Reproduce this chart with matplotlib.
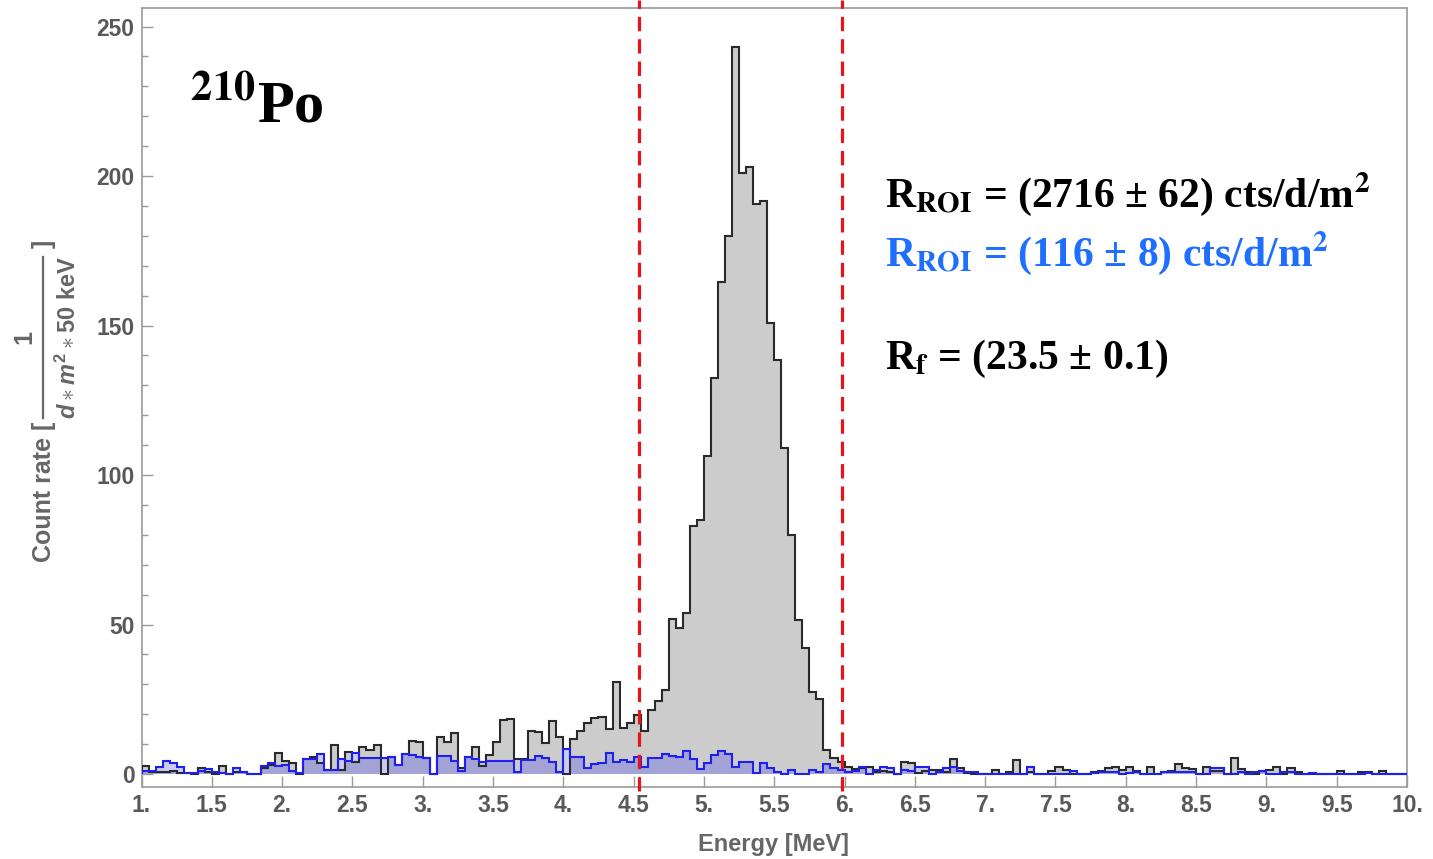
import matplotlib

matplotlib.use('Agg')

import matplotlib.pyplot as plt
from matplotlib.lines import Line2D
from matplotlib.ticker import FixedLocator, MultipleLocator
import numpy as np

# 50 keV bins from 1 to 10 MeV, one row per MeV
total_rate = [
    2.7, 0.8, 0.5, 0.8, 1.1, 0.3, 0.4, 0.0, 1.9, 0.5, 0.0, 2.7, 0.0, 0.5, 0.8, 0.0, 0.0, 2.0, 3.0, 6.9,
    4.5, 3.6, 0.0, 4.9, 5.6, 3.6, 1.3, 9.7, 1.3, 7.4, 4.1, 8.9, 8.0, 9.7, 0.0, 5.8, 3.0, 6.7, 11.0, 10.7,
    5.2, 0.0, 12.5, 10.8, 13.6, 2.0, 5.6, 9.1, 2.7, 6.4, 10.8, 18.0, 18.3, 5.0, 5.0, 14.5, 14.0, 10.5, 17.8, 12.5,
    0.0, 11.6, 14.4, 17.2, 18.6, 19.2, 15.0, 30.7, 15.3, 17.2, 19.6, 14.3, 21.3, 24.5, 28.0, 52.0, 48.7, 53.7, 83.0, 85.0,
    106.5, 132.5, 164.4, 180.0, 243.0, 201.0, 203.0, 190.7, 191.7, 151.0, 138.5, 109.0, 80.0, 51.6, 42.0, 27.3, 25.2, 8.1, 5.3, 4.0,
    2.4, 1.7, 1.9, 2.4, 0.8, 1.0, 0.8, 0.0, 4.1, 3.6, 0.3, 1.0, 1.3, 1.3, 0.8, 5.0, 2.1, 0.3, 0.0, 0.0,
    0.0, 1.3, 0.0, 0.5, 4.7, 0.0, 0.5, 0.0, 0.0, 1.0, 2.2, 1.3, 0.0, 0.0, 0.0, 0.5, 1.0, 1.9, 2.4, 1.3,
    2.3, 1.0, 0.0, 2.3, 0.0, 0.8, 1.0, 3.2, 1.9, 1.7, 0.0, 2.2, 1.0, 1.0, 0.0, 5.4, 1.7, 0.5, 0.0, 1.0,
    1.3, 2.2, 0.0, 1.9, 0.8, 0.0, 0.0, 0.0, 0.0, 0.0, 1.1, 0.0, 0.0, 0.6, 0.6, 0.0, 1.1, 0.0, 0.0, 0.0,
]
bkg_rate = [
    1.0, 1.1, 2.4, 4.4, 3.8, 2.4, 0.4, 0.4, 1.1, 1.6, 0.8, 0.3, 0.0, 1.9, 0.8, 0.0, 0.0, 2.7, 3.8, 2.7,
    3.0, 1.1, 0.2, 4.9, 5.0, 6.7, 1.3, 1.3, 4.9, 4.4, 7.0, 5.5, 5.5, 5.5, 5.2, 5.8, 3.0, 6.7, 6.3, 5.8,
    5.2, 0.0, 6.0, 6.0, 4.5, 1.0, 5.6, 5.0, 4.1, 4.5, 4.5, 4.5, 4.5, 0.5, 4.7, 4.7, 6.0, 5.2, 4.0, 0.8,
    8.4, 5.6, 5.6, 1.9, 3.3, 3.8, 6.9, 4.1, 4.7, 4.1, 5.6, 2.5, 5.2, 5.2, 6.6, 6.1, 5.8, 7.8, 4.9, 1.6,
    3.6, 6.4, 7.8, 6.7, 2.2, 4.1, 4.1, 0.2, 3.7, 2.0, 0.8, 0.0, 1.3, 0.0, 0.0, 1.3, 0.5, 3.4, 2.0, 1.3,
    0.5, 1.0, 2.2, 0.0, 1.3, 2.4, 2.1, 0.0, 1.5, 1.0, 2.4, 2.4, 0.0, 0.8, 1.9, 2.4, 1.0, 0.8, 0.6, 0.0,
    0.0, 0.0, 0.0, 0.0, 0.0, 0.0, 2.2, 0.0, 0.0, 0.0, 0.0, 0.0, 1.0, 0.0, 0.0, 0.3, 0.5, 0.5, 0.5, 0.0,
    0.3, 0.5, 0.0, 0.0, 0.0, 0.5, 0.5, 0.5, 0.5, 0.5, 0.0, 0.0, 1.9, 1.9, 0.0, 0.0, 0.8, 0.0, 0.5, 1.0,
    0.0, 0.0, 0.5, 0.5, 0.0, 0.0, 0.2, 0.0, 0.0, 0.0, 0.0, 0.0, 0.0, 0.0, 0.2, 0.0, 0.0, 0.0, 0.0, 0.0,
]
e_min, e_max, bin_width = 1.0, 10.0, 0.05
roi = [4.535, 5.985]
x_ticks = [1.0, 1.5, 2.0, 2.5, 3.0, 3.5, 4.0, 4.5, 5.0, 5.5, 6.0, 6.5, 7.0, 7.5, 8.0, 8.5, 9.0, 9.5, 10.0]
x_tick_labels = ['1.', '1.5', '2.', '2.5', '3.', '3.5', '4.', '4.5', '5.', '5.5',
                 '6.', '6.5', '7.', '7.5', '8.', '8.5', '9.', '9.5', '10.']
y_ticks = [0, 50, 100, 150, 200, 250]

total_rate = np.array(total_rate)
bkg_rate = np.array(bkg_rate)
edges = e_min + bin_width * np.arange(len(total_rate) + 1)

# sans math for the axis label fraction
plt.rcParams['mathtext.rm'] = 'Liberation Sans:bold'
plt.rcParams['mathtext.it'] = 'Liberation Sans:italic:bold'
plt.rcParams['mathtext.bf'] = 'Liberation Sans:bold'

W, H = 1433, 859


def fx(px):
    return px / W


def fy(py):
    return 1 - py / H


fig = plt.figure(figsize=(W / 100, H / 100), dpi=100)
ax = fig.add_axes([fx(141.5), fy(787), (1407 - 141.5) / W, (787 - 8) / H])

# fills: gray total, light blue where bkg sticks out, darker where they overlap
ax.stairs(total_rate, edges, fill=True, color='#cccccc', zorder=1)
ax.stairs(bkg_rate, edges, fill=True, color='#cbcbf6', zorder=2)
ax.stairs(np.minimum(total_rate, bkg_rate), edges, fill=True, color='#a3a3d6', zorder=3)
ax.stairs(total_rate, edges, color='#2a2a2a', lw=1.5, zorder=4)
ax.stairs(bkg_rate, edges, color='#2020ee', lw=1.5, zorder=5)

for xr in roi:
    ax.axvline(xr, color='#e8141c', lw=2.3, ls=(0, (4.5, 2.5)), zorder=6, clip_on=False,
               ymin=-0.005, ymax=1.01)

ax.set_xlim(e_min, e_max)
ax.set_ylim(-4.35, 256.2)
ax.xaxis.set_major_locator(FixedLocator(x_ticks))
ax.set_xticklabels(x_tick_labels)
ax.set_yticks(y_ticks)
ax.yaxis.set_minor_locator(MultipleLocator(10))
ax.tick_params(direction='in', colors='#9a9a9a', labelcolor='#595959', labelsize=16.5,
               length=8, width=1, pad=5)
ax.tick_params(which='minor', direction='in', colors='#9a9a9a', length=4.5, width=1)
for lab in ax.get_xticklabels() + ax.get_yticklabels():
    lab.set_fontweight('bold')
    lab.set_family('Liberation Sans')
for sp in ax.spines.values():
    sp.set_color('#9a9a9a')
    sp.set_linewidth(1.2)

label_style = dict(color='#666666', family='Liberation Sans', fontweight='bold')
fig.text(fx(773), fy(845), 'Energy [MeV]', ha='center', va='center', fontsize=17, **label_style)

# y label built Mathematica-style: "Count rate [ 1 / (d*m^2*50 keV) ]"
fig.text(fx(44), fy(562), 'Count rate [', rotation=90, rotation_mode='anchor',
         ha='left', va='center', fontsize=18, **label_style)
fig.text(fx(44), fy(240), ']', rotation=90, rotation_mode='anchor',
         ha='right', va='center', fontsize=18, **label_style)
fig.add_artist(Line2D([fx(43), fx(43)], [fy(418), fy(257)], color='#666666', lw=1.6))
fig.text(fx(24), fy(337), '1', rotation=90, rotation_mode='anchor',
         ha='center', va='center', fontsize=18, **label_style)
fig.text(fx(68), fy(337), r'$d\ast m^{2}\ast$50 keV', rotation=90, rotation_mode='anchor',
         ha='center', va='center', fontsize=17, math_fontfamily='custom', **label_style)

serif = dict(family='Liberation Serif', fontweight='bold', math_fontfamily='stix')
fig.text(fx(190), fy(122), r'$^{\mathbf{210}}$Po', fontsize=43.5, va='baseline', **serif)
fig.text(fx(885), fy(207), r'R$_{\mathbf{ROI}}$ = (2716 ± 62) cts/d/m$^{\mathbf{2}}$',
         fontsize=30, va='baseline', color='black', **serif)
fig.text(fx(885), fy(266), r'R$_{\mathbf{ROI}}$ = (116 ± 8) cts/d/m$^{\mathbf{2}}$',
         fontsize=30, va='baseline', color='#1e6eff', **serif)
fig.text(fx(885), fy(369), r'R$_{\mathbf{f}}$ = (23.5 ± 0.1)',
         fontsize=30, va='baseline', color='black', **serif)

fig.savefig('out.png', dpi=100)
plt.close(fig)
